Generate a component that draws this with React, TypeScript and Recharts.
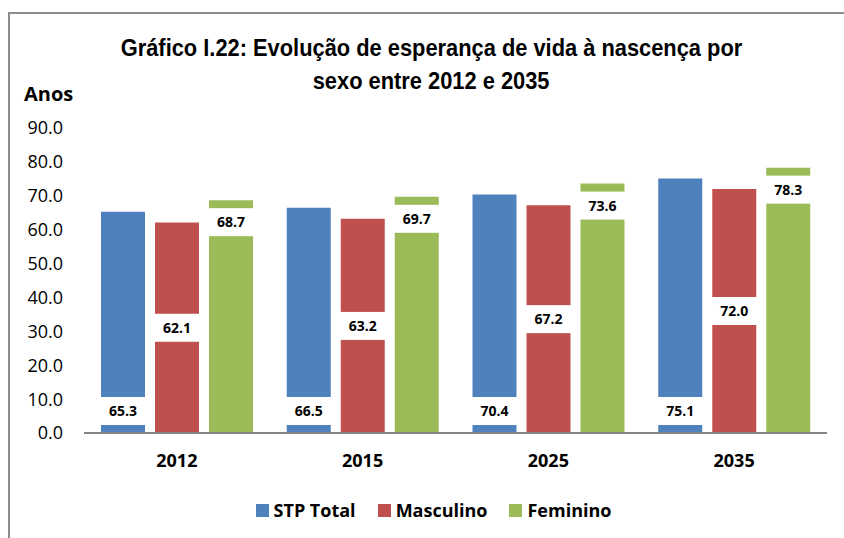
import { Bar, BarChart, LabelList, Legend, XAxis, YAxis } from "recharts"

const years = ["2012", "2015", "2025", "2035"]
const stpTotal = [65.3, 66.5, 70.4, 75.1]
const masculino = [62.1, 63.2, 67.2, 72.0]
const feminino = [68.7, 69.7, 73.6, 78.3]
const yTicks = [0, 10, 20, 30, 40, 50, 60, 70, 80, 90]

const series = [
  { key: "total", name: "STP Total", color: "#4F81BD", mode: "base" },
  { key: "masc", name: "Masculino", color: "#C0504D", mode: "center" },
  { key: "fem", name: "Feminino", color: "#9BBB59", mode: "end" },
]

const data = years.map((year, i) => ({
  year,
  total: stpTotal[i],
  masc: masculino[i],
  fem: feminino[i],
}))

const labelFont = "'Open Sans', 'Noto Sans', sans-serif"
const titleFont = "'Liberation Sans', Arial, sans-serif"

// white box label, like the excel data labels with a fill
const boxLabel = (mode: string) => (props: any) => {
  const x = Number(props.x)
  const y = Number(props.y)
  const w = Number(props.width)
  const h = Number(props.height)
  let cy = y + h / 2
  if (mode === "base") cy = y + h - 22
  if (mode === "end") cy = y + 22
  return (
    <g>
      <rect x={x - 1} y={cy - 14} width={w + 2} height={28} fill="#fff" />
      <text
        x={x + w / 2}
        y={cy}
        dy="0.36em"
        textAnchor="middle"
        fontFamily={labelFont}
        fontWeight="bold"
        fontSize={14}
        fill="#000"
      >
        {Number(props.value).toFixed(1)}
      </text>
    </g>
  )
}

const renderLegend = () => (
  <div
    style={{
      height: 30,
      display: "flex",
      justifyContent: "center",
      alignItems: "center",
      paddingLeft: 40,
      fontFamily: labelFont,
      fontWeight: "bold",
      fontSize: 18,
      color: "#000",
    }}
  >
    {series.map((s) => (
      <div key={s.key} style={{ display: "flex", alignItems: "center", margin: "0 11px" }}>
        <span style={{ width: 13, height: 13, background: s.color, marginRight: 5 }} />
        <span>{s.name}</span>
      </div>
    ))}
  </div>
)

const titleLine = { display: "inline-block", transform: "scaleX(0.91)", transformOrigin: "center" }

export default function App() {
  return (
    <div style={{ position: "absolute", left: 0, top: 0, width: 844, height: 538, background: "#fff" }}>
      <div
        style={{
          position: "absolute",
          left: 8,
          top: 12,
          width: 836,
          height: 526,
          borderLeft: "2px solid #8c8c8c",
          borderTop: "2px solid #8c8c8c",
        }}
      />
      <div
        style={{
          position: "absolute",
          left: 0,
          top: 31,
          width: 862,
          textAlign: "center",
          fontFamily: titleFont,
          fontWeight: "bold",
          fontSize: 24,
          lineHeight: "33px",
          color: "#000",
        }}
      >
        <span style={titleLine}>Gráfico I.22: Evolução de esperança de vida à nascença por</span>
        <br />
        <span style={titleLine}>sexo entre 2012 e 2035</span>
      </div>
      <div
        style={{
          position: "absolute",
          left: 24,
          top: 80,
          fontFamily: labelFont,
          fontWeight: "bold",
          fontSize: 20,
          color: "#000",
        }}
      >
        Anos
      </div>
      <BarChart
        width={844}
        height={538}
        data={data}
        margin={{ top: 128, right: 17, left: 0, bottom: 13 }}
        barCategoryGap={16}
        barGap={10}
      >
        <XAxis
          dataKey="year"
          height={62}
          tickLine={false}
          tickSize={0}
          tickMargin={21}
          axisLine={{ stroke: "#868686", strokeWidth: 2 }}
          tick={{ fill: "#000", fontSize: 18, fontWeight: "bold", fontFamily: labelFont }}
        />
        <YAxis
          width={84}
          domain={[0, 90]}
          ticks={yTicks}
          interval={0}
          axisLine={false}
          tickLine={false}
          tickSize={0}
          tickMargin={21}
          tickFormatter={(v: number) => v.toFixed(1)}
          tick={{ fill: "#000", fontSize: 18, fontFamily: labelFont }}
        />
        <Legend verticalAlign="bottom" height={30} content={renderLegend} />
        {series.map((s) => (
          <Bar key={s.key} dataKey={s.key} name={s.name} fill={s.color} barSize={44} isAnimationActive={false}>
            <LabelList dataKey={s.key} content={boxLabel(s.mode)} />
          </Bar>
        ))}
      </BarChart>
    </div>
  )
}
